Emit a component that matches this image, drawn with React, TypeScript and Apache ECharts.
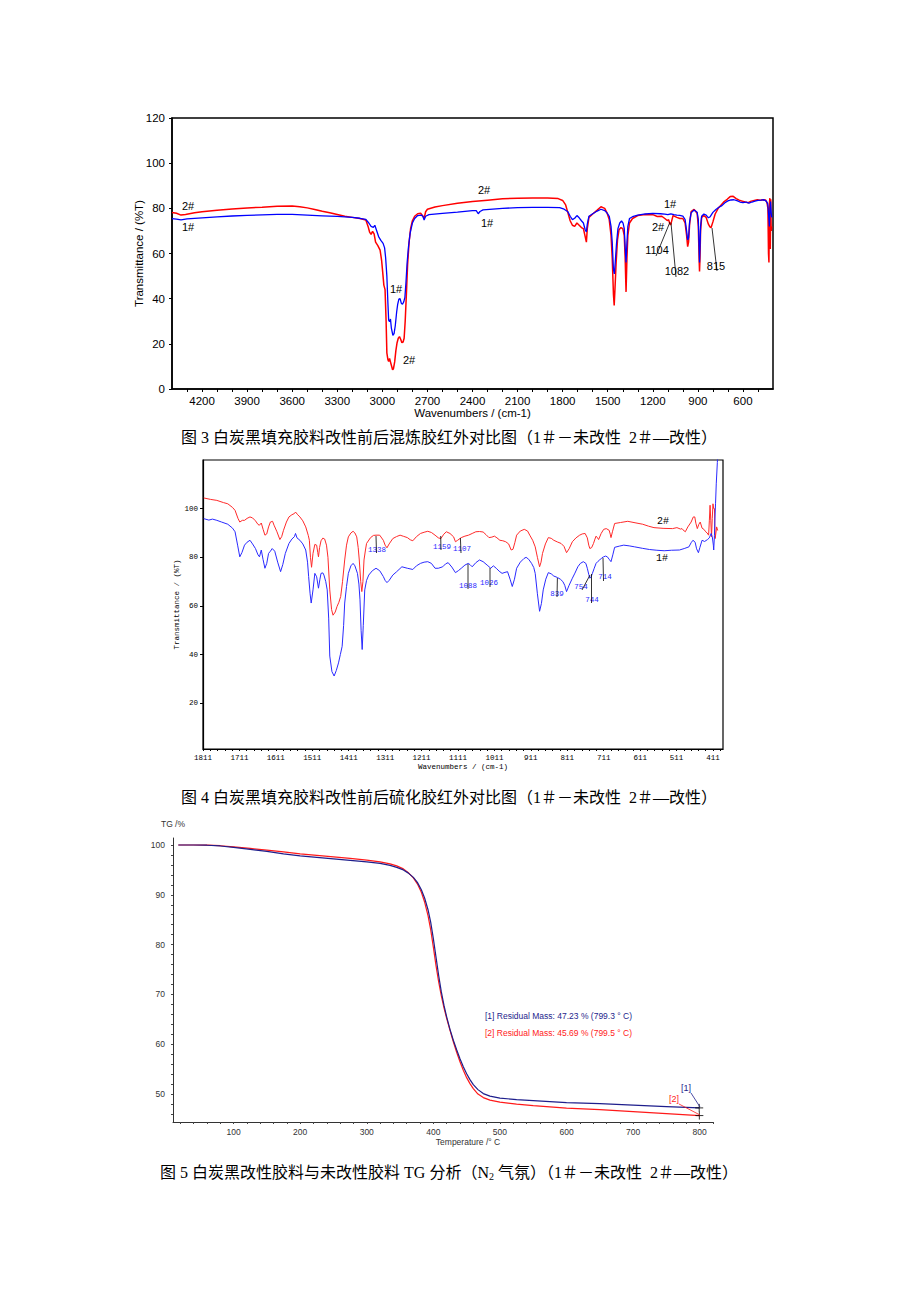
import React, { useEffect, useRef } from "react";
import * as echarts from "echarts";

// ---------- Figure 3 : IR of compounded rubber (wavenumber, %T) ----------
const fig3Blue: number[][] = [
  [4400, 75.4], [4370, 75.2], [4340, 74.9], [4300, 75.3], [4200, 75.8], [4100, 76.2], [4000, 76.6], [3900, 76.9],
  [3800, 77.1], [3700, 77.3], [3600, 77.3], [3500, 77.0], [3400, 76.7], [3300, 76.4], [3200, 76.0], [3150, 75.6],
  [3110, 75.1], [3090, 73.5], [3075, 72.0], [3060, 71.6], [3050, 72.5], [3040, 70.5], [3025, 67.5], [3010, 65.8],
  [2995, 64.5], [2985, 62.5], [2978, 58], [2970, 50], [2963, 38], [2958, 30.5], [2952, 29.8], [2946, 31],
  [2940, 27], [2930, 23.8], [2922, 24.5], [2914, 28], [2905, 34], [2898, 37.5], [2890, 39.8], [2882, 40],
  [2874, 38], [2866, 37.5], [2858, 38.5], [2850, 40.5], [2843, 47], [2835, 56], [2826, 63], [2815, 69],
  [2800, 73.5], [2785, 75.5], [2765, 76.8], [2740, 77], [2730, 76.5], [2722, 74.8], [2712, 76.5], [2690, 77.2],
  [2600, 77.8], [2500, 78.3], [2400, 79.0], [2375, 79.0], [2362, 77.6], [2350, 78.6], [2330, 79.3], [2200, 80.0],
  [2100, 80.3], [2000, 80.4], [1900, 80.4], [1820, 80.3], [1790, 79.6], [1765, 78.5], [1750, 76.5], [1735, 75.0],
  [1720, 75.6], [1705, 76.8], [1690, 75.8], [1675, 74.5], [1662, 73.5], [1650, 70.5], [1642, 69.5], [1636, 73],
  [1625, 76.5], [1600, 77.6], [1570, 78.8], [1545, 79.6], [1520, 79.0], [1505, 78], [1490, 76.5], [1478, 72],
  [1470, 65], [1462, 53], [1456, 51], [1450, 56], [1442, 64], [1432, 71], [1420, 73.5], [1408, 74.4],
  [1398, 73.5], [1390, 71], [1384, 63], [1378, 56], [1372, 65], [1366, 72], [1355, 75.5], [1335, 76.3],
  [1300, 77.0], [1250, 77.5], [1200, 77.8], [1150, 77.6], [1120, 77.4], [1100, 77.2], [1080, 77.6], [1060, 77.2],
  [1040, 77.0], [1020, 76.9], [1000, 76.6], [985, 75], [975, 70], [968, 66], [962, 67], [955, 74],
  [945, 78], [925, 79.3], [905, 78.3], [897, 75], [892, 63], [889, 56], [886, 62], [882, 72],
  [875, 76.5], [860, 77.5], [845, 77.0], [830, 75.8], [818, 76.3], [800, 78.2], [780, 79.5], [760, 80.5],
  [740, 81.2], [720, 82.5], [700, 83.3], [680, 83.7], [660, 83.8], [640, 83.4], [620, 82.8], [600, 82.5],
  [580, 82.8], [560, 82.3], [540, 82.8], [520, 83.2], [500, 83.5], [480, 83.6], [460, 83.8], [445, 83.2],
  [435, 82.0], [428, 76], [424, 72], [420, 80], [416, 83], [412, 78], [408, 76]
];
const fig3Red: number[][] = [
  [4400, 78.2], [4370, 77.8], [4340, 77.0], [4310, 77.3], [4250, 78.0], [4200, 78.5], [4100, 79.2], [4000, 79.7],
  [3900, 80.2], [3800, 80.5], [3700, 80.9], [3600, 81.0], [3550, 80.7], [3500, 80.2], [3450, 79.5], [3400, 78.7],
  [3350, 78.0], [3300, 77.3], [3250, 76.5], [3200, 76.0], [3150, 75.5], [3110, 74.8], [3095, 72], [3085, 69.5],
  [3075, 68.5], [3065, 69.8], [3055, 68.7], [3045, 65], [3030, 63.5], [3015, 61.5], [3005, 57], [2998, 52],
  [2990, 46], [2982, 44], [2975, 30], [2970, 16], [2963, 13], [2958, 12.2], [2952, 13.5], [2946, 12],
  [2940, 10.5], [2932, 8.5], [2926, 9], [2918, 12], [2910, 17], [2902, 20.5], [2894, 22.5], [2886, 23.2],
  [2878, 22], [2870, 20.5], [2862, 20.8], [2855, 22.5], [2848, 30], [2840, 42], [2832, 55], [2822, 65],
  [2812, 71], [2800, 74.5], [2785, 76.5], [2765, 77.6], [2745, 77.8], [2730, 76.5], [2722, 75.5], [2712, 78.5],
  [2700, 79.6], [2650, 80.6], [2600, 81.2], [2500, 82.2], [2400, 83.0], [2300, 83.6], [2200, 84.2], [2100, 84.5],
  [2000, 84.6], [1900, 84.6], [1830, 84.3], [1800, 83.5], [1780, 81.5], [1765, 78], [1750, 74.5], [1735, 72.5],
  [1720, 72.0], [1705, 73.5], [1690, 72.5], [1675, 71.5], [1662, 71.0], [1650, 67.5], [1642, 65], [1636, 71],
  [1625, 76], [1600, 77.5], [1570, 79.2], [1545, 80.7], [1520, 80.0], [1505, 78], [1490, 75], [1478, 68],
  [1470, 58], [1462, 42], [1457, 37], [1452, 44], [1444, 56], [1435, 66], [1425, 70.5], [1412, 71.5],
  [1400, 71], [1390, 68], [1384, 58], [1378, 43], [1372, 58], [1366, 68], [1355, 73.5], [1335, 75.5],
  [1300, 76.8], [1250, 77.3], [1200, 77.2], [1170, 76.4], [1140, 76.5], [1120, 75.5], [1104, 74.6], [1095, 75],
  [1088, 73.5], [1082, 72.6], [1076, 74], [1065, 76.8], [1040, 76.0], [1020, 75.5], [1000, 75.5], [985, 73.5],
  [975, 68], [968, 63], [962, 65], [955, 73], [945, 78.5], [925, 79.5], [905, 77.8], [897, 72],
  [892, 58], [889, 52], [886, 58], [882, 70], [875, 76], [860, 76.8], [845, 76.0], [830, 73.0],
  [820, 71.8], [812, 71.5], [800, 74], [785, 77.5], [765, 80], [745, 81.5], [725, 83], [705, 84.0],
  [685, 85.2], [665, 85.3], [645, 84.3], [625, 83.6], [605, 83.2], [585, 82.8], [565, 82.5], [545, 83.2],
  [525, 83.5], [505, 83.8], [485, 83.6], [465, 83.8], [450, 83.7], [440, 82.5], [434, 80], [430, 60],
  [427, 56], [424, 82], [421, 84.5], [418, 62], [415, 84], [412, 70], [408, 72]
];

// ---------- Figure 4 : IR of vulcanized rubber (wavenumber, %T) ----------
const fig4Red: number[][] = [
  [1809, 104.4], [1790, 103.8], [1773, 103.4], [1755, 102.5], [1743, 102], [1730, 100.5], [1723, 99.3], [1715, 96],
  [1710, 94.5], [1703, 95.2], [1697, 95.2], [1690, 96], [1682, 96.6], [1675, 96.2], [1667, 95], [1660, 93.5],
  [1656, 93.2], [1651, 94.1], [1646, 91.5], [1641, 89.1], [1636, 89.6], [1631, 92.5], [1626, 94.5], [1620, 94.8],
  [1616, 93.2], [1608, 90.5], [1600, 87.3], [1595, 88.5], [1590, 91.1], [1582, 94.5], [1575, 96.6], [1567, 97.5],
  [1560, 98], [1557, 98.6], [1551, 97.5], [1545, 96.6], [1537, 95], [1529, 92.5], [1522, 89], [1519, 87],
  [1516, 80], [1513, 75.9], [1509, 81.6], [1504, 85.3], [1499, 85], [1496, 82], [1494, 80.2], [1491, 84],
  [1487, 86.8], [1482, 87.9], [1477, 87.5], [1472, 85], [1468, 80], [1463, 66.6], [1458, 58.5], [1454, 56.2],
  [1448, 57.5], [1443, 59.8], [1438, 61.5], [1433, 63.9], [1428, 70], [1422, 78.9], [1417, 85], [1412, 88.4],
  [1405, 90], [1399, 90.7], [1394, 90], [1389, 88.4], [1385, 84], [1382, 78.9], [1378, 70], [1375, 65.9],
  [1372, 70], [1369, 78.9], [1365, 83], [1362, 85.7], [1351, 88.1], [1343, 89], [1336, 89.1], [1326, 89.1],
  [1316, 87], [1311, 85], [1306, 83.9], [1300, 85.5], [1290, 87.7], [1280, 88.5], [1270, 89.1], [1260, 88.6],
  [1250, 88.1], [1242, 87.2], [1235, 86.8], [1225, 88.5], [1214, 89.8], [1204, 90.3], [1194, 90.7], [1184, 90.2],
  [1174, 89.1], [1165, 88], [1158, 87.7], [1150, 89.5], [1143, 90.5], [1133, 89.8], [1123, 88.4], [1118, 86.4],
  [1112, 87], [1102, 88.1], [1092, 88.7], [1082, 89.1], [1072, 89.8], [1062, 90.5], [1052, 90.6], [1042, 90.4],
  [1034, 89.3], [1026, 88.1], [1018, 88.3], [1011, 88.7], [1004, 88], [996, 87], [988, 86.8], [980, 86.4],
  [972, 85.5], [965, 83], [960, 83.3], [955, 86], [950, 89.1], [940, 90.8], [929, 91.5], [920, 90.8],
  [914, 89.1], [906, 87], [899, 84.3], [893, 80], [887, 76.1], [883, 78], [879, 81.6], [871, 85.5],
  [863, 88.1], [855, 87.8], [848, 87], [838, 86.3], [828, 85.7], [820, 84.5], [813, 81.9], [806, 83.5],
  [797, 86.4], [787, 88], [777, 89.1], [770, 89.6], [762, 89.8], [756, 88], [752, 85], [749, 83.6],
  [744, 84], [739, 85.7], [735, 87.5], [732, 88.7], [728, 88], [725, 87.3], [718, 89.8], [711, 91.5],
  [704, 91.8], [696, 91.1], [693, 89.5], [691, 88.1], [687, 90.5], [681, 93.9], [665, 94.3], [645, 94.8],
  [625, 94.2], [604, 93.6], [588, 92.8], [573, 92.2], [548, 91.9], [522, 91.8], [510, 92.2], [500, 91.6],
  [496, 91.8], [490, 90.8], [487, 90.5], [480, 92.5], [471, 94.5], [465, 96.6], [461, 96.6], [458, 94],
  [454, 91.8], [450, 93.5], [446, 94.5], [441, 92], [436, 91.5], [431, 90.5], [427, 90], [423, 89.1],
  [421, 95], [419, 101.4], [417, 95], [415, 88.4], [413, 96], [411, 102], [409, 100], [407, 100],
  [405, 87.7], [403, 90], [401, 92.5], [398, 91]
];
const fig4Blue: number[][] = [
  [1809, 95.9], [1795, 95.3], [1785, 95.7], [1773, 95.2], [1760, 94.5], [1743, 93.6], [1730, 92], [1723, 90.5],
  [1716, 85], [1710, 80.2], [1704, 82], [1697, 85], [1690, 86.2], [1682, 87], [1675, 85.5], [1667, 83.6],
  [1660, 81], [1656, 80.2], [1651, 83], [1646, 79], [1641, 75.5], [1636, 77.5], [1631, 81.6], [1626, 82.5],
  [1621, 83.6], [1614, 82.5], [1606, 78], [1598, 74.1], [1592, 77], [1585, 81.6], [1575, 85.7], [1567, 87.5],
  [1560, 88.5], [1557, 89.8], [1553, 88], [1545, 87], [1537, 85.5], [1529, 83], [1524, 78], [1521, 72.1],
  [1517, 65], [1514, 61.2], [1509, 66.6], [1504, 73.4], [1499, 72], [1494, 67.3], [1490, 71], [1487, 73.4],
  [1482, 73.6], [1479, 72.7], [1474, 70], [1470, 66.6], [1466, 55], [1463, 39.4], [1457, 33], [1451, 31.2],
  [1445, 33.5], [1439, 36.6], [1434, 40], [1429, 43.4], [1425, 52], [1422, 61.2], [1417, 68], [1412, 73.4],
  [1405, 76.5], [1399, 77.5], [1394, 76.5], [1387, 73.4], [1383, 69], [1380, 62.5], [1377, 50], [1374, 42.1],
  [1371, 52], [1367, 66.6], [1362, 70.5], [1356, 72.7], [1346, 74.5], [1336, 75.5], [1326, 74.5], [1316, 72.1],
  [1311, 70.5], [1306, 69.6], [1300, 70.5], [1290, 72.7], [1280, 74], [1265, 76.1], [1250, 75.5], [1235, 75],
  [1225, 76.5], [1214, 77.5], [1204, 78], [1194, 78.2], [1184, 77.5], [1174, 75.5], [1165, 75.5], [1153, 76.1],
  [1145, 77.3], [1138, 77.8], [1128, 76], [1118, 73.7], [1110, 74.5], [1102, 75.5], [1092, 76.8], [1083, 77.5],
  [1078, 77], [1072, 76.1], [1062, 77.8], [1052, 78.9], [1042, 78.2], [1031, 76.8], [1021, 75.5], [1014, 76.5],
  [1006, 75.5], [998, 74.3], [990, 73.4], [982, 73.8], [975, 74.1], [968, 71], [962, 68], [956, 71],
  [950, 75.5], [940, 78], [930, 79.5], [924, 80], [917, 79.2], [909, 77.5], [903, 75.8], [899, 73.4],
  [893, 65], [887, 57.8], [882, 61], [877, 66.6], [870, 71], [863, 73.7], [855, 73.2], [848, 72.3],
  [838, 71.7], [830, 71], [823, 70], [818, 68.5], [813, 65.9], [806, 68.5], [797, 71.4], [790, 73.5],
  [782, 76.1], [775, 77.5], [767, 78.2], [760, 77.5], [756, 75.5], [752, 73], [749, 71.4], [745, 72.2],
  [742, 73.4], [737, 75.5], [732, 77.5], [727, 78.3], [722, 78.9], [716, 79.8], [711, 80.2], [706, 80.5],
  [701, 80.2], [696, 79.2], [691, 78.2], [686, 81], [681, 84.1], [668, 84.6], [656, 85], [641, 84.7],
  [626, 84.3], [605, 83.7], [585, 83.2], [565, 82.9], [545, 82.7], [525, 82.9], [503, 83], [490, 83.6],
  [477, 84.3], [471, 86], [466, 87], [460, 86.2], [456, 83.5], [451, 81.9], [447, 84], [441, 87],
  [434, 86.5], [426, 87.3], [421, 88], [416, 89.8], [413, 88.5], [410, 85], [409, 83], [407, 89],
  [406, 94.5], [404, 102], [402, 110.2], [399, 119], [398, 122]
];

// ---------- Figure 5 : TG (temperature °C, mass %) ----------
const tgBlue: number[][] = [
  [17, 100], [40, 100], [60, 99.95], [80, 99.8], [100, 99.5], [125, 99.1], [150, 98.7], [175, 98.2],
  [200, 97.8], [225, 97.5], [250, 97.2], [275, 96.9], [300, 96.6], [320, 96.3], [335, 95.9], [345, 95.5],
  [355, 95], [362, 94.4], [370, 93.5], [376, 92.5], [382, 91], [387, 89.3], [392, 87], [396, 84.5],
  [400, 81.2], [404, 77.5], [408, 73.8], [412, 70.5], [416, 67.8], [420, 65.5], [425, 63], [430, 60.8],
  [435, 58.9], [440, 57.1], [445, 55.5], [450, 54.1], [455, 52.9], [460, 51.9], [467, 50.9], [475, 50.1],
  [485, 49.6], [500, 49.2], [525, 48.9], [550, 48.7], [600, 48.3], [650, 48.1], [700, 47.8], [750, 47.5],
  [799.3, 47.23]
];
const tgRed: number[][] = [
  [17, 100], [40, 100], [60, 99.98], [80, 99.85], [100, 99.6], [125, 99.3], [150, 98.95], [175, 98.6],
  [200, 98.2], [225, 97.9], [250, 97.6], [275, 97.3], [300, 96.95], [320, 96.6], [335, 96.2], [345, 95.8],
  [355, 95.2], [362, 94.5], [370, 93.4], [376, 92.2], [382, 90.5], [387, 88.5], [392, 85.8], [396, 83.0],
  [400, 79.5], [404, 75.8], [408, 72.5], [412, 69.7], [416, 67.3], [420, 65.2], [425, 62.8], [430, 60.5],
  [435, 58.4], [440, 56.5], [445, 54.8], [450, 53.3], [455, 52.1], [460, 51.1], [467, 50.0], [475, 49.3],
  [485, 48.8], [500, 48.4], [525, 48.0], [550, 47.7], [600, 47.2], [650, 46.9], [700, 46.5], [750, 46.1],
  [799.5, 45.69]
];
const tgEndPoints: number[][] = [[799.3, 47.23], [799.5, 45.69]];

// ---------- tick labels ----------
const range = (a: number, b: number, s: number) => {
  const r: number[] = [];
  for (let v = a; v <= b + 1e-9; v += s) r.push(v);
  return r;
};
const fig3XLabels = [600, 900, 1200, 1500, 1800, 2100, 2400, 2700, 3000, 3300, 3600, 3900, 4200];
const fig3XTicks = range(500, 4300, 100);
const fig4XLabels = [411, 511, 611, 711, 811, 911, 1011, 1111, 1211, 1311, 1411, 1511, 1611, 1711, 1811];
const fig4XTicks = range(391, 1811, 20);
const fig4YLabels = [20, 40, 60, 80, 100];
const tgXLabels = [100, 200, 300, 400, 500, 600, 700, 800];
const tgXTicks = range(20, 820, 20);
const tgYLabels = [50, 60, 70, 80, 90, 100];
const tgYTicks = range(46, 100, 2);

const SANS = '"Liberation Sans", Arial, sans-serif';
const MONO = '"Liberation Mono", "DejaVu Sans Mono", monospace';
const CAP = '16px "Liberation Serif", "Noto Sans CJK SC", serif';
const plain = (v: number) => String(v);

const txt = (text: string, x: number, y: number, font: string, fill: string, align = "center") => ({
  type: "text",
  z: 100,
  style: { text, x, y, font, fill, textAlign: align, textVerticalAlign: "middle" }
});
const ln = (x1: number, y1: number, x2: number, y2: number, stroke = "#000", w = 0.8) => ({
  type: "line",
  z: 100,
  shape: { x1, y1, x2, y2 },
  style: { stroke, lineWidth: w }
});

export default function App() {
  const ref = useRef<HTMLDivElement>(null);
  useEffect(() => {
    if (!ref.current) return;
    const chart = echarts.init(ref.current, null, { renderer: "svg", width: 920, height: 1302 });
    const f3Font = `11px ${SANS}`;
    const f4Font = `7.5px ${MONO}`;
    const option: any = {
      animation: false,
      backgroundColor: "#fff",
      grid: [
        { left: 172, top: 118, width: 601, height: 271, show: true, borderColor: "#000", borderWidth: 1.5 },
        { left: 203, top: 460, width: 520, height: 289, show: true, borderColor: "#000", borderWidth: 1.2 },
        { left: 173, top: 838, width: 540, height: 284, show: false }
      ],
      xAxis: [
        {
          gridIndex: 0, type: "value", min: 400, max: 4400, inverse: true,
          axisLine: { show: true, lineStyle: { color: "#000", width: 1.5 } },
          axisTick: { show: true, customValues: fig3XTicks, length: 3, lineStyle: { color: "#000" } },
          axisLabel: { customValues: fig3XLabels, formatter: plain, color: "#000", fontSize: 11.5, fontFamily: SANS, margin: 6 },
          splitLine: { show: false },
          name: "Wavenumbers / (cm-1)", nameLocation: "middle", nameGap: 18, nameMoveOverlap: false,
          nameTextStyle: { color: "#000", fontSize: 11.5, fontFamily: SANS }
        },
        {
          gridIndex: 1, type: "value", min: 383.5, max: 1811, inverse: true,
          axisLine: { show: true, lineStyle: { color: "#000", width: 1.2 } },
          axisTick: { show: true, customValues: fig4XTicks, length: 2, lineStyle: { color: "#000" } },
          axisLabel: { customValues: fig4XLabels, formatter: plain, color: "#000", fontSize: 7.5, fontFamily: MONO, margin: 5 },
          splitLine: { show: false },
          name: "Wavenumbers / (cm-1)", nameLocation: "middle", nameGap: 14, nameMoveOverlap: false,
          nameTextStyle: { color: "#000", fontSize: 7.5, fontFamily: MONO }
        },
        {
          gridIndex: 2, type: "value", min: 9, max: 820,
          axisLine: { show: true, lineStyle: { color: "#333", width: 1 } },
          axisTick: { show: true, customValues: tgXTicks, length: 2, lineStyle: { color: "#444" } },
          axisLabel: { customValues: tgXLabels, formatter: plain, color: "#333", fontSize: 8.5, fontFamily: SANS, margin: 5 },
          splitLine: { show: false },
          name: "Temperature /° C", nameLocation: "middle", nameGap: 15, nameMoveOverlap: false,
          nameTextStyle: { color: "#333", fontSize: 8.5, fontFamily: SANS, padding: [0, 0, 0, 50] }
        }
      ],
      yAxis: [
        {
          gridIndex: 0, type: "value", min: 0, max: 120, interval: 20,
          axisLine: { show: true, lineStyle: { color: "#000", width: 1.5 } },
          axisTick: { show: true, length: 3, lineStyle: { color: "#000" } },
          axisLabel: { formatter: plain, color: "#000", fontSize: 11.5, fontFamily: SANS, margin: 7 },
          splitLine: { show: false },
          name: "Transmittance / (%T)", nameLocation: "middle", nameGap: 27, nameMoveOverlap: false,
          nameTextStyle: { color: "#000", fontSize: 11.5, fontFamily: SANS }
        },
        {
          gridIndex: 1, type: "value", min: 1.2, max: 120,
          axisLine: { show: true, lineStyle: { color: "#000", width: 1.2 } },
          axisTick: { show: true, customValues: fig4YLabels, length: 3, lineStyle: { color: "#000" } },
          axisLabel: { customValues: fig4YLabels, formatter: plain, color: "#000", fontSize: 7.5, fontFamily: MONO, margin: 5 },
          splitLine: { show: false },
          name: "Transmittance / (%T)", nameLocation: "middle", nameGap: 22, nameMoveOverlap: false,
          nameTextStyle: { color: "#000", fontSize: 7.5, fontFamily: MONO }
        },
        {
          gridIndex: 2, type: "value", min: 44.4, max: 101.4,
          axisLine: { show: true, lineStyle: { color: "#333", width: 1 } },
          axisTick: { show: true, customValues: tgYTicks, length: 2, lineStyle: { color: "#444" } },
          axisLabel: { customValues: tgYLabels, formatter: plain, color: "#333", fontSize: 8.5, fontFamily: SANS, margin: 8 },
          splitLine: { show: false },
          name: "TG /%", nameLocation: "end", nameGap: 10,
          nameTextStyle: { color: "#333", fontSize: 8.5, fontFamily: SANS, align: "center" }
        }
      ],
      series: [
        { type: "line", xAxisIndex: 0, yAxisIndex: 0, data: fig3Red, showSymbol: false, symbol: "none", lineStyle: { color: "#ff0000", width: 1.5 } },
        { type: "line", xAxisIndex: 0, yAxisIndex: 0, data: fig3Blue, showSymbol: false, symbol: "none", lineStyle: { color: "#0000ff", width: 1.3 } },
        { type: "line", xAxisIndex: 1, yAxisIndex: 1, data: fig4Red, showSymbol: false, symbol: "none", lineStyle: { color: "#ff2a2a", width: 1 } },
        { type: "line", xAxisIndex: 1, yAxisIndex: 1, data: fig4Blue, showSymbol: false, symbol: "none", lineStyle: { color: "#2a2aff", width: 1 } },
        { type: "line", xAxisIndex: 2, yAxisIndex: 2, data: tgRed, showSymbol: false, symbol: "none", lineStyle: { color: "#ff1a1a", width: 1.2 } },
        { type: "line", xAxisIndex: 2, yAxisIndex: 2, data: tgBlue, showSymbol: false, symbol: "none", lineStyle: { color: "#1e1e8c", width: 1.2 } },
        {
          type: "scatter", xAxisIndex: 2, yAxisIndex: 2, data: tgEndPoints, z: 10,
          symbol: "path://M0,5L10,5M5,0L5,10", symbolSize: 8,
          itemStyle: { color: "rgba(0,0,0,0)", borderColor: "#000", borderWidth: 1 }
        }
      ],
      graphic: {
        elements: [
          // Figure 3 annotations
          txt("2#", 188, 206, f3Font, "#000"),
          txt("1#", 188, 227, f3Font, "#000"),
          txt("2#", 484, 190, f3Font, "#000"),
          txt("1#", 487, 223, f3Font, "#000"),
          txt("1#", 396, 289, f3Font, "#000"),
          txt("2#", 409, 360, f3Font, "#000"),
          txt("1#", 670, 204, f3Font, "#000"),
          txt("2#", 658, 227, f3Font, "#000"),
          txt("1104", 657, 250, f3Font, "#000"),
          txt("1082", 677, 271, f3Font, "#000"),
          txt("815", 716, 266, f3Font, "#000"),
          ln(656, 256, 670, 222),
          ln(671, 223, 676, 277),
          ln(712, 228, 717, 271),
          // Figure 4 annotations
          txt("1338", 377, 550, f4Font, "#2a2aff"),
          txt("1159", 442, 547, f4Font, "#2a2aff"),
          txt("1107", 462, 549, f4Font, "#2a2aff"),
          txt("1088", 468, 586, f4Font, "#2a2aff"),
          txt("1026", 489, 583, f4Font, "#2a2aff"),
          txt("839", 557, 594, f4Font, "#2a2aff"),
          txt("754", 581, 587, f4Font, "#2a2aff"),
          txt("744", 592, 600, f4Font, "#2a2aff"),
          txt("714", 605, 577, f4Font, "#2a2aff"),
          txt("2#", 663, 521, `10px ${MONO}`, "#000"),
          txt("1#", 662, 558, `10px ${MONO}`, "#000"),
          ln(376, 536, 376.5, 553),
          ln(440.7, 536, 441, 550),
          ln(460.4, 538, 461, 553),
          ln(468, 564, 468, 589),
          ln(490, 568, 490, 587),
          ln(557.4, 578, 557, 597),
          ln(582, 590, 590, 575),
          ln(591.5, 574, 591.5, 603),
          ln(603, 558, 603.5, 581),
          // Figure 5 annotations
          txt("[1] Residual Mass: 47.23 % (799.3 ° C)", 485, 1016, `8.5px ${SANS}`, "#1e1e8c", "left"),
          txt("[2] Residual Mass: 45.69 % (799.5 ° C)", 485, 1033, `8.5px ${SANS}`, "#ff1a1a", "left"),
          txt("[1]", 686, 1088, `9px ${SANS}`, "#1e1e8c"),
          txt("[2]", 674, 1099, `9px ${SANS}`, "#ff1a1a"),
          ln(691, 1093, 700, 1107, "#1e1e8c", 0.8),
          ln(679, 1104, 700, 1115, "#ff1a1a", 0.8),
          // Captions
          txt("图 3 白炭黑填充胶料改性前后混炼胶红外对比图（1＃－未改性  2＃—改性）", 449, 437, CAP, "#000"),
          txt("图 4 白炭黑填充胶料改性前后硫化胶红外对比图（1＃－未改性  2＃—改性）", 449, 797, CAP, "#000"),
          {
            type: "text",
            z: 100,
            style: {
              text: "图 5 白炭黑改性胶料与未改性胶料 TG 分析（N{sub|2} 气氛）（1＃－未改性  2＃—改性）",
              x: 449, y: 1172, font: CAP, fill: "#000", textAlign: "center", textVerticalAlign: "middle",
              rich: { sub: { fontSize: 10, fontFamily: '"Liberation Serif", serif', fill: "#000", padding: [8, 0, 0, 0] } }
            }
          }
        ]
      }
    };
    chart.setOption(option);
    return () => chart.dispose();
  }, []);
  return (
    <div
      ref={ref}
      style={{ position: "absolute", left: 0, top: 0, width: 920, height: 1302, background: "#fff" }}
    />
  );
}
